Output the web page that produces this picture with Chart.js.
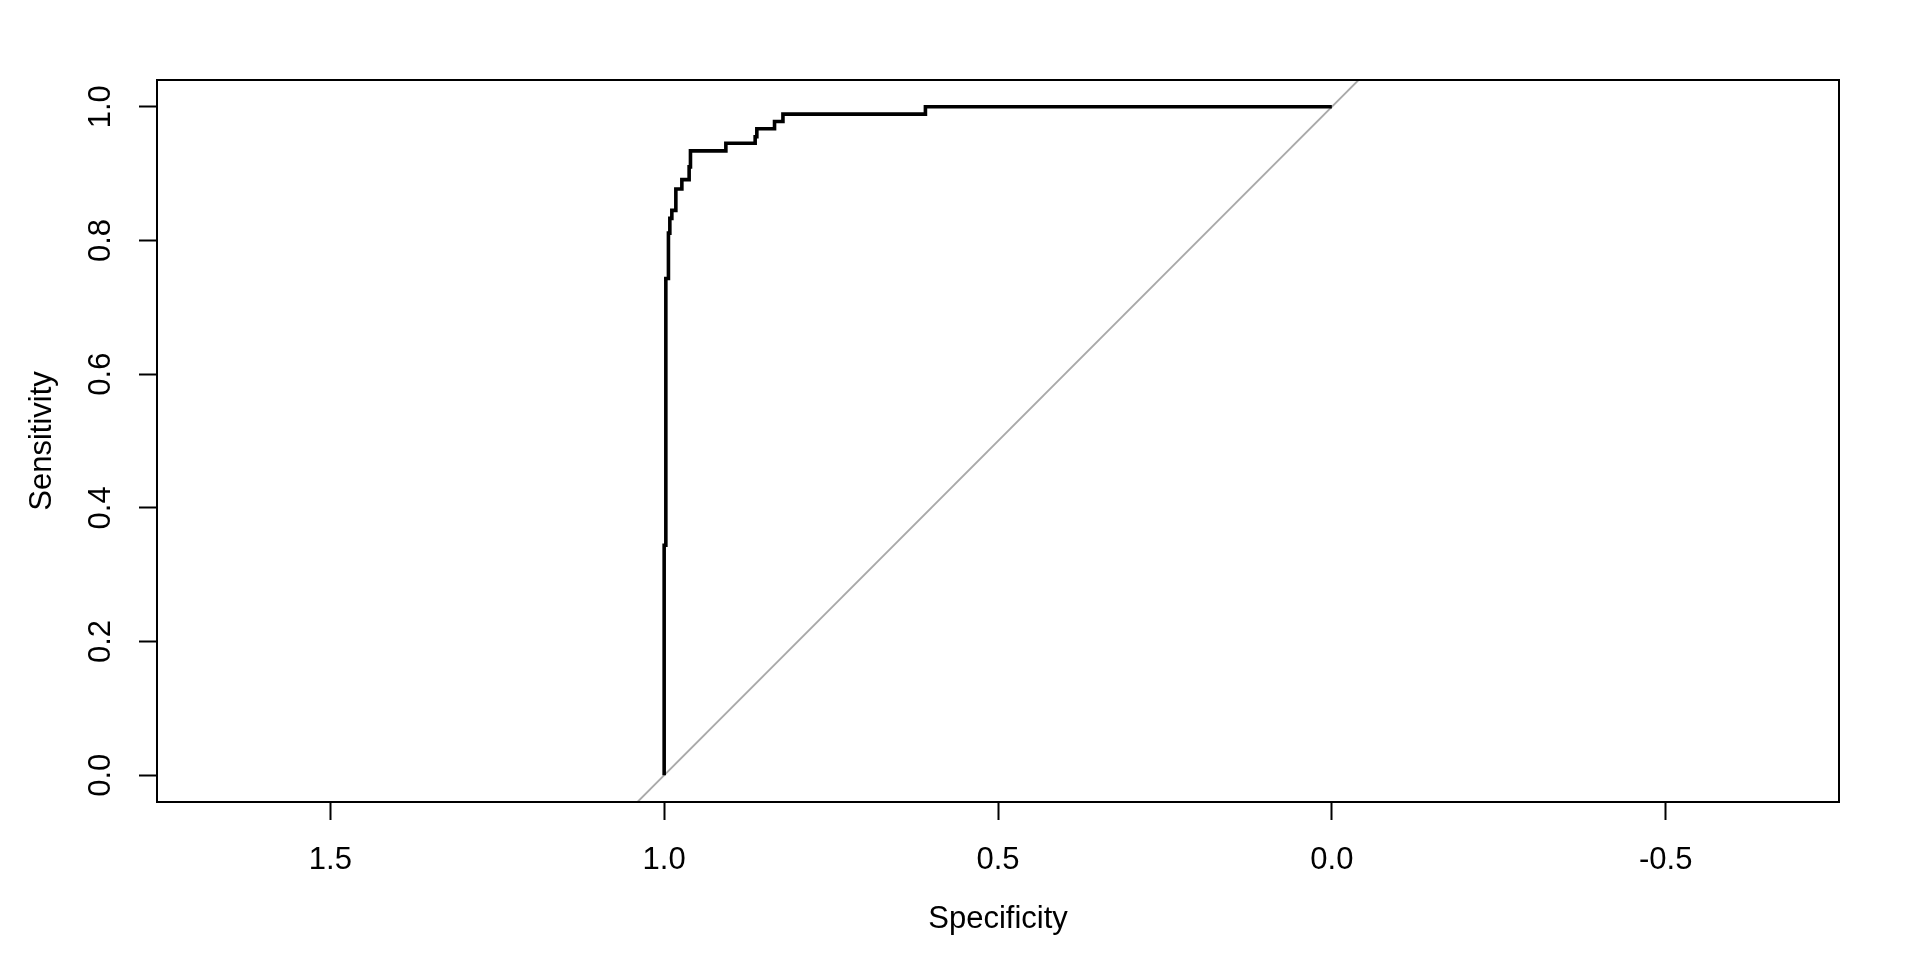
<!DOCTYPE html>
<html>
<head>
<meta charset="utf-8">
<script src="https://cdn.jsdelivr.net/npm/chart.js@4"></script>
<style>
  html, body { margin: 0; padding: 0; background: #ffffff; }
  #wrap { width: 1920px; height: 960px; }
</style>
</head>
<body>
<div id="wrap"><canvas id="c" width="1920" height="960"></canvas></div>
<script>
// ROC curve vertices (specificity, sensitivity)
const specificity = [1.0, 1.0, 0.9975, 0.9975, 0.9936, 0.9936, 0.9915, 0.9915, 0.9885, 0.9885,
  0.9825, 0.9825, 0.9735, 0.9735, 0.9626, 0.9626, 0.9606, 0.9606, 0.9076, 0.9076,
  0.8637, 0.8637, 0.8612, 0.8612, 0.8347, 0.8347, 0.8221, 0.8221, 0.6087, 0.6087, 0.0];
const sensitivity = [0.0, 0.344, 0.344, 0.743, 0.743, 0.811, 0.811, 0.833, 0.833, 0.845,
  0.845, 0.877, 0.877, 0.891, 0.891, 0.910, 0.910, 0.934, 0.934, 0.9455,
  0.9455, 0.955, 0.955, 0.967, 0.967, 0.978, 0.978, 0.989, 0.989, 1.0, 1.0];
// Identity (chance) line endpoints
const diagSpec = [1.04, -0.04];
const diagSens = [-0.04, 1.04];
// Axis ticks
const xTicks = [1.5, 1.0, 0.5, 0.0, -0.5];
const yTicks = [0.0, 0.2, 0.4, 0.6, 0.8, 1.0];
const xRange = [-0.7596, 1.7596];
const yRange = [-0.04, 1.04];

const FONT = 'Liberation Sans, Arial, Helvetica, sans-serif';
const FSIZE = 31;

const framePlugin = {
  id: 'frame',
  afterDatasetsDraw(chart) {
    const a = chart.chartArea, ctx = chart.ctx;
    ctx.save();
    ctx.strokeStyle = '#000';
    ctx.lineWidth = 2;
    ctx.strokeRect(a.left, a.top, a.right - a.left, a.bottom - a.top);
    ctx.restore();
  }
};

const rocData = specificity.map((s, i) => ({ x: s, y: sensitivity[i] }));
const diagData = diagSpec.map((s, i) => ({ x: s, y: diagSens[i] }));

new Chart(document.getElementById('c'), {
  type: 'scatter',
  data: {
    datasets: [
      { label: 'ROC', data: rocData, showLine: true, borderColor: '#000', borderWidth: 3.6,
        pointRadius: 0, fill: false, tension: 0, borderJoinStyle: 'miter', borderCapStyle: 'butt' },
      { label: 'identity', data: diagData, showLine: true, borderColor: '#A9A9A9', borderWidth: 1.8,
        pointRadius: 0, fill: false, tension: 0 }
    ]
  },
  options: {
    responsive: false,
    devicePixelRatio: 1,
    animation: false,
    events: [],
    layout: { padding: { left: 0, top: 80, right: 81, bottom: 0 } },
    plugins: { legend: { display: false }, tooltip: { enabled: false } },
    scales: {
      x: {
        type: 'linear',
        min: xRange[0], max: xRange[1],
        reverse: true,
        afterFit: s => { s.height = 158; },
        afterBuildTicks: s => { s.ticks = xTicks.map(v => ({ value: v })); },
        border: { display: false },
        grid: { display: true, drawOnChartArea: false, drawTicks: true, tickLength: 18, tickColor: '#000', tickWidth: 2 },
        ticks: { color: '#000', font: { family: FONT, size: FSIZE }, padding: 22, maxRotation: 0, minRotation: 0,
                 callback: v => v.toFixed(1) },
        title: { display: true, text: 'Specificity', color: '#000', font: { family: FONT, size: FSIZE },
                 padding: { top: 0, bottom: 22 } }
      },
      y: {
        type: 'linear',
        min: yRange[0], max: yRange[1],
        afterFit: s => { s.width = 157; },
        afterBuildTicks: s => { s.ticks = yTicks.map(v => ({ value: v })); },
        border: { display: false },
        grid: { display: true, drawOnChartArea: false, drawTicks: true, tickLength: 18, tickColor: '#000', tickWidth: 2 },
        ticks: { color: '#000', font: { family: FONT, size: FSIZE }, padding: 16, minRotation: 90, maxRotation: 90,
                 crossAlign: 'center', callback: v => v.toFixed(1) },
        title: { display: true, text: 'Sensitivity', color: '#000', font: { family: FONT, size: FSIZE },
                 padding: { top: 24, bottom: 0 } }
      }
    }
  },
  plugins: [framePlugin]
});
</script>
</body>
</html>
